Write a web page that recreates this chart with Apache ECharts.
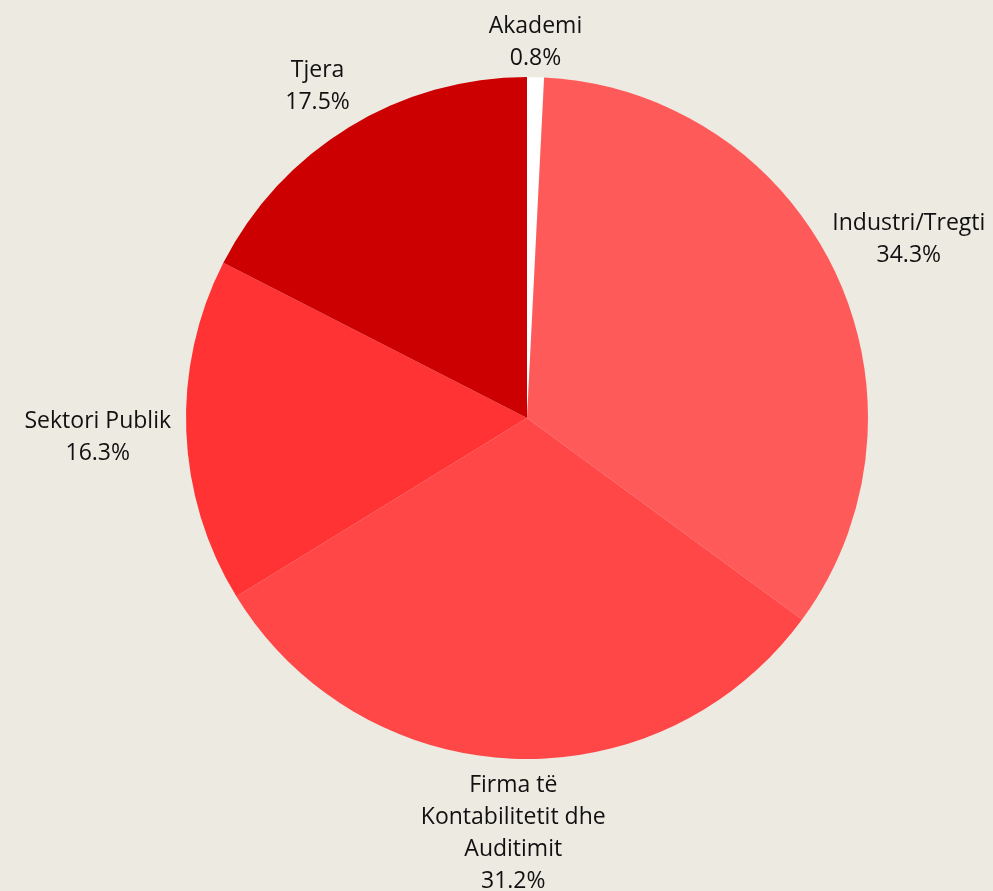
<!DOCTYPE html>
<html>
<head>
<meta charset="utf-8">
<script src="https://cdn.jsdelivr.net/npm/echarts@6/dist/echarts.min.js"></script>
<style>
  html, body { margin: 0; padding: 0; background: #edeae2; }
  #pie { width: 993px; height: 891px; }
</style>
</head>
<body>
<div id="pie"></div>
<script>
	var categories = ['Akademi', 'Industri/Tregti', 'Firma të\nKontabilitetit dhe\nAuditimit', 'Sektori Publik', 'Tjera'];
	var values = [0.8, 34.3, 31.2, 16.3, 17.5];
	var colorList = ['#ffffff', '#ff5a5a', '#ff4747', '#ff3333', '#cc0000'];

	var pie = echarts.init(document.getElementById('pie'));

	var cx = 527, cy = 418, r = 341;
	var fontSize = 23, font = fontSize + 'px "Open Sans"';
	var total = values.reduce(function (a, b) { return a + b; }, 0);

	// middle angle of each slice, clockwise from top
	function midAngle(idx) {
		var before = 0;
		for (var i = 0; i < idx; i++) before += values[i];
		return (before + values[idx] / 2) / total * Math.PI * 2;
	}

	var ctx = document.createElement('canvas').getContext('2d');
	ctx.font = font;
	function labelLines(i) {
		var lines = categories[i].split('\n');
		lines.push(values[i].toFixed(1) + '%');
		return lines;
	}
	function labelWidth(i) {
		return Math.ceil(Math.max.apply(null, labelLines(i).map(function (s) {
			return ctx.measureText(s).width;
		}))) + 2;
	}

	var option = {
		backgroundColor: '#edeae2',
		color: colorList,
		animation: false,
		series: [{
			type: 'pie',
			center: [cx, cy],
			radius: [0, r],
			startAngle: 90,
			clockwise: true,
			itemStyle: { borderWidth: 0 },
			label: {
				show: true,
				position: 'outside',
				overflow: 'none',
				fontFamily: 'Open Sans',
				fontSize: fontSize,
				color: '#111',
				formatter: function (p) {
					return labelLines(p.dataIndex).map(function (s) { return '{t|' + s + '}'; }).join('\n');
				},
				rich: {
					t: { fontFamily: 'Open Sans', fontSize: fontSize, color: '#111', align: 'center', lineHeight: 32 }
				}
			},
			labelLine: { show: false },
			labelLayout: function (params) {
				var a = midAngle(params.dataIndex);
				var s = Math.sin(a), c = Math.cos(a);
				var align = s > 0.3 ? 'left' : (s < -0.3 ? 'right' : 'center');
				var vAlign = c > 0.3 ? 'bottom' : (c < -0.3 ? 'top' : 'middle');
				var gx = vAlign === 'middle' ? 14 : -4, gy = 6;
				var dy = vAlign === 'middle' ? 6 : (vAlign === 'top' ? 5 : (align === 'right' ? -4 : 3));
				return {
					x: cx + (r + gx) * s,
					y: cy - (r + gy) * c + dy,
					align: align,
					verticalAlign: vAlign
				};
			},
			data: categories.map(function (name, i) {
				return { name: name, value: values[i], label: { width: labelWidth(i) } };
			})
		}]
	};

	pie.setOption(option);

	window.onresize = function () {
		pie.resize();
	};
</script>
</body>
</html>
